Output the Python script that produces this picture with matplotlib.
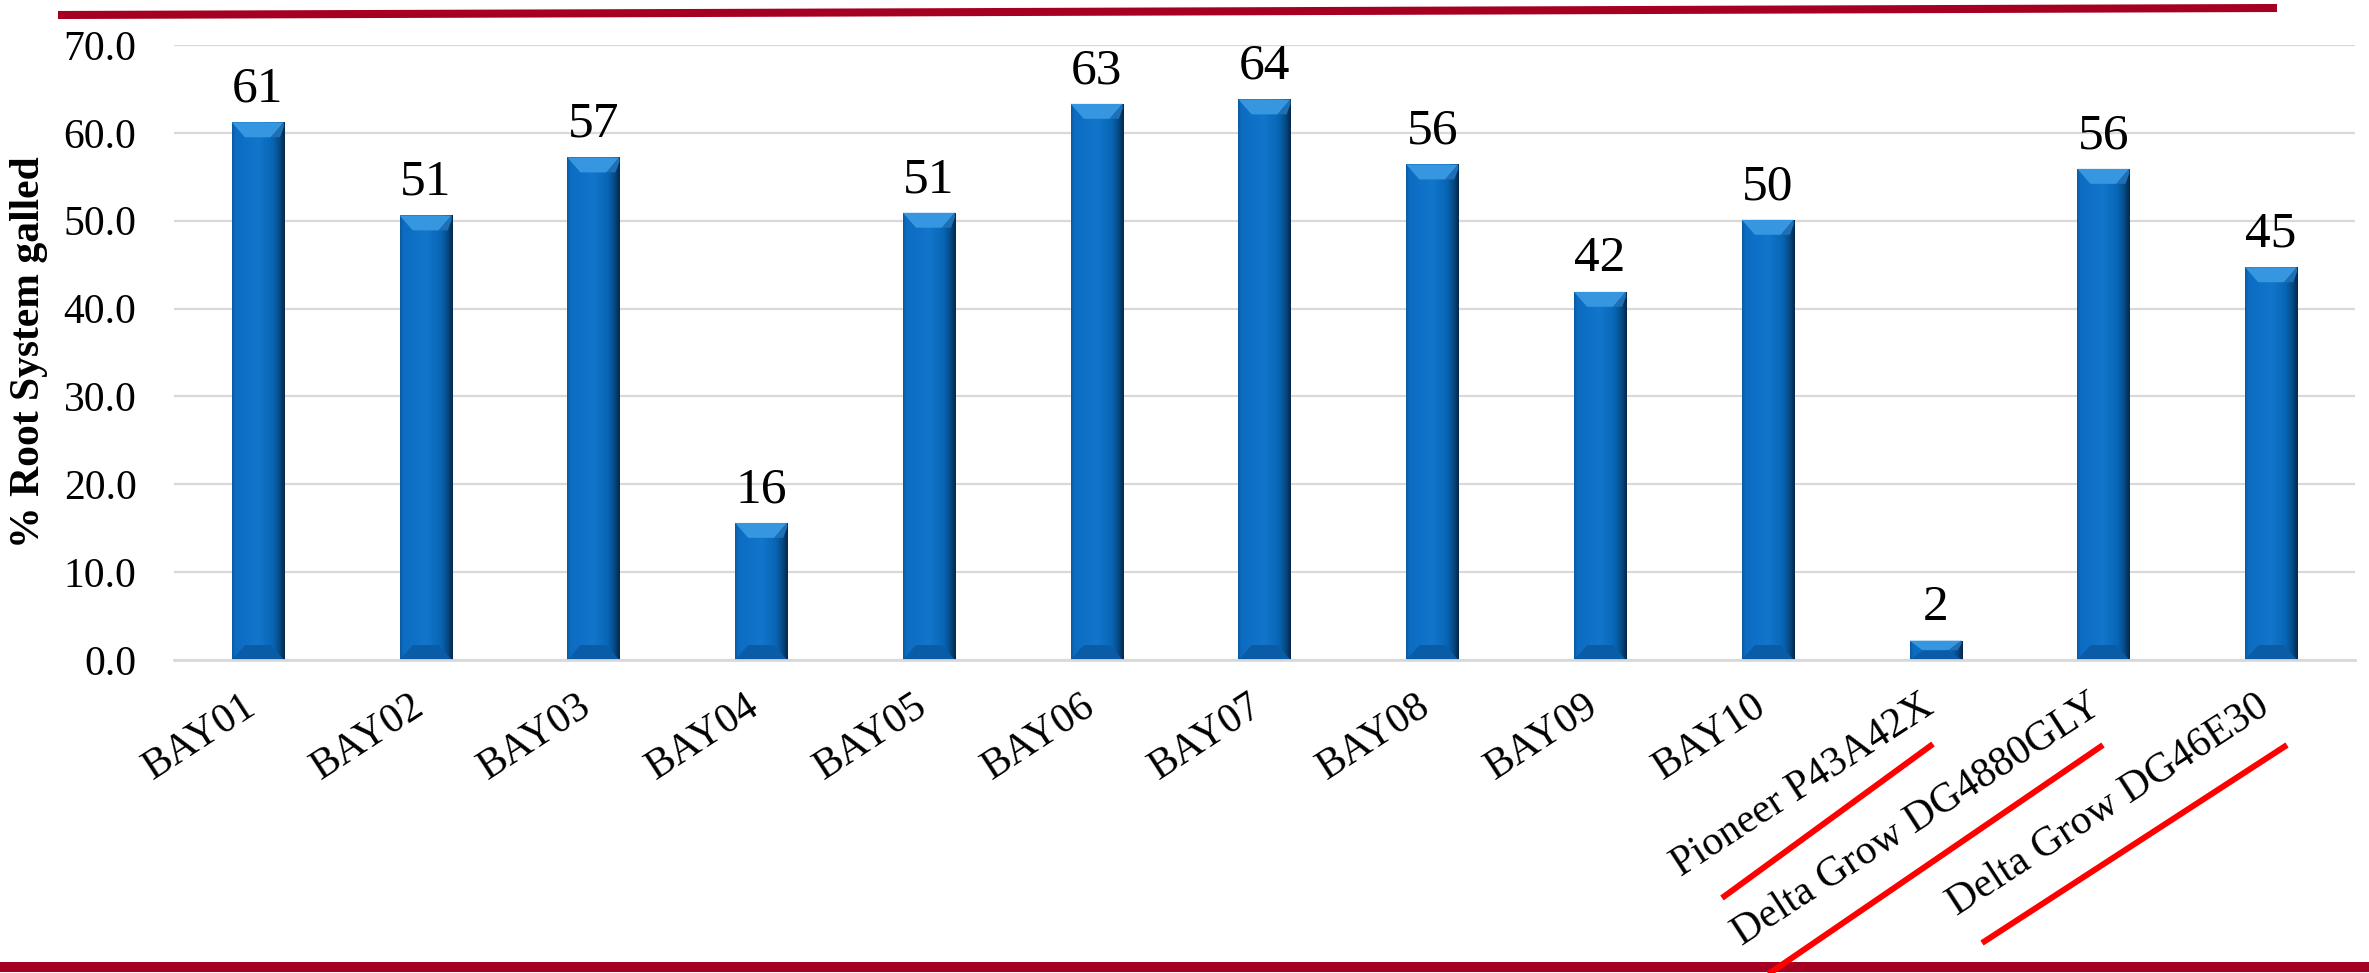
import numpy as np
import matplotlib
matplotlib.use("Agg")
import matplotlib.pyplot as plt
import matplotlib.transforms as mtransforms
from matplotlib.colors import LinearSegmentedColormap
from matplotlib.patches import Polygon
from matplotlib.lines import Line2D

# Variedades evaluadas
variedades = ["BAY01", "BAY02", "BAY03", "BAY04", "BAY05", "BAY06", "BAY07",
              "BAY08", "BAY09", "BAY10", "Pioneer P43A42X",
              "Delta Grow DG4880GLY", "Delta Grow DG46E30"]

# % del sistema radicular con agallas
agallas = [61.2, 50.6, 57.2, 15.6, 50.9, 63.3, 63.8, 56.4, 41.9, 50.1, 2.2, 55.9, 44.7]

# Marcas del eje y
ticks_y = [0, 10, 20, 30, 40, 50, 60, 70]

# Subrayados rojos bajo los testigos comerciales (pixeles de la figura)
subrayados = [((1722, 898), (1933, 744)),
              ((1767, 975), (2103, 745)),
              ((1982, 943), (2287, 745))]

fuente = "Liberation Serif"
plt.rcParams["font.family"] = [fuente, "DejaVu Serif"]

W, H = 2369, 973
fig = plt.figure(figsize=(W / 100, H / 100), dpi=100)
ax = fig.add_axes([174 / W, 1 - 660 / H, 2181 / W, 615 / H])

x = np.arange(len(variedades))
ancho = 0.31
barras = ax.bar(x, agallas, width=ancho, color="#0a6fc5", zorder=2)

# Sombreado tipo bisel para cada barra
cmap = LinearSegmentedColormap.from_list(
    "bisel", [(0.0, "#0d5a9e"), (0.06, "#0b6cc2"), (0.5, "#1276cb"),
              (0.78, "#0865b4"), (0.9, "#074a85"), (1.0, "#05284a")])
gradiente = np.linspace(0, 1, 128).reshape(1, -1)
bx, by = 0.078, 1.7
for b in barras:
    x0, w, h = b.get_x(), b.get_width(), b.get_height()
    im = ax.imshow(gradiente, cmap=cmap, extent=(x0, x0 + w, 0, h),
                   aspect="auto", interpolation="bilinear", zorder=2.1)
    im.set_clip_path(b)
    bh = min(by, h / 2)
    bw = min(bx, w / 2)
    ax.add_patch(Polygon([(x0, h), (x0 + w, h), (x0 + w - bw, h - bh), (x0 + bw, h - bh)],
                         closed=True, fc="#3796e0", ec="none", zorder=2.2))
    ax.add_patch(Polygon([(x0 + w, h), (x0 + w - bw, h - bh), (x0 + w - bw * 0.3, h - bh), (x0 + w, h - bh * 0.3)],
                         closed=True, fc="#1f6fb5", ec="none", zorder=2.3))
    ax.add_patch(Polygon([(x0, 0), (x0 + w, 0), (x0 + w - bw, bh), (x0 + bw, bh)],
                         closed=True, fc="#0a5ca6", ec="none", zorder=2.2))

ax.bar_label(barras, labels=[f"{v:.0f}" for v in agallas], padding=7,
             fontsize=37, family=fuente, zorder=3)

ax.set_xlim(-0.5, len(variedades) - 0.5)
ax.set_ylim(0, 70)
ax.set_yticks(ticks_y)
ax.set_yticklabels([f"{t:.1f}" for t in ticks_y], fontsize=30)
ax.yaxis.grid(True, color="#d9d9d9", linewidth=1.6)
ax.set_axisbelow(True)
for lado in ["top", "right", "left"]:
    ax.spines[lado].set_visible(False)
ax.spines["bottom"].set_color("#d9d9d9")
ax.spines["bottom"].set_linewidth(2)
ax.tick_params(axis="both", length=0)
ax.tick_params(axis="y", pad=27)

ax.set_xticks(x)
ax.set_xticklabels(variedades, fontsize=30, rotation=33, ha="right",
                   va="top", rotation_mode="anchor")
ax.tick_params(axis="x", pad=19.5)
desplaza = mtransforms.ScaledTranslation(-0.16, 0, fig.dpi_scale_trans)
for etiqueta in ax.get_xticklabels():
    etiqueta.set_transform(etiqueta.get_transform() + desplaza)

ax.set_ylabel("% Root System galled", fontsize=30, fontweight="bold")
ax.yaxis.set_label_coords(-0.058, 0.5)

# Lineas decorativas de la plantilla
fig.add_artist(Line2D([58 / W, 2277 / W], [1 - 15 / H, 1 - 8 / H],
                      color="#a50021", linewidth=5.8, solid_capstyle="butt"))
fig.add_artist(Line2D([0, 1], [1 - 967 / H, 1 - 967 / H],
                      color="#a50021", linewidth=7.2, solid_capstyle="butt"))

for (xa, ya), (xb, yb) in subrayados:
    fig.add_artist(Line2D([xa / W, xb / W], [1 - ya / H, 1 - yb / H],
                          color="#ff0000", linewidth=4.3, solid_capstyle="butt"))

fig.savefig("out.png", dpi=100)
